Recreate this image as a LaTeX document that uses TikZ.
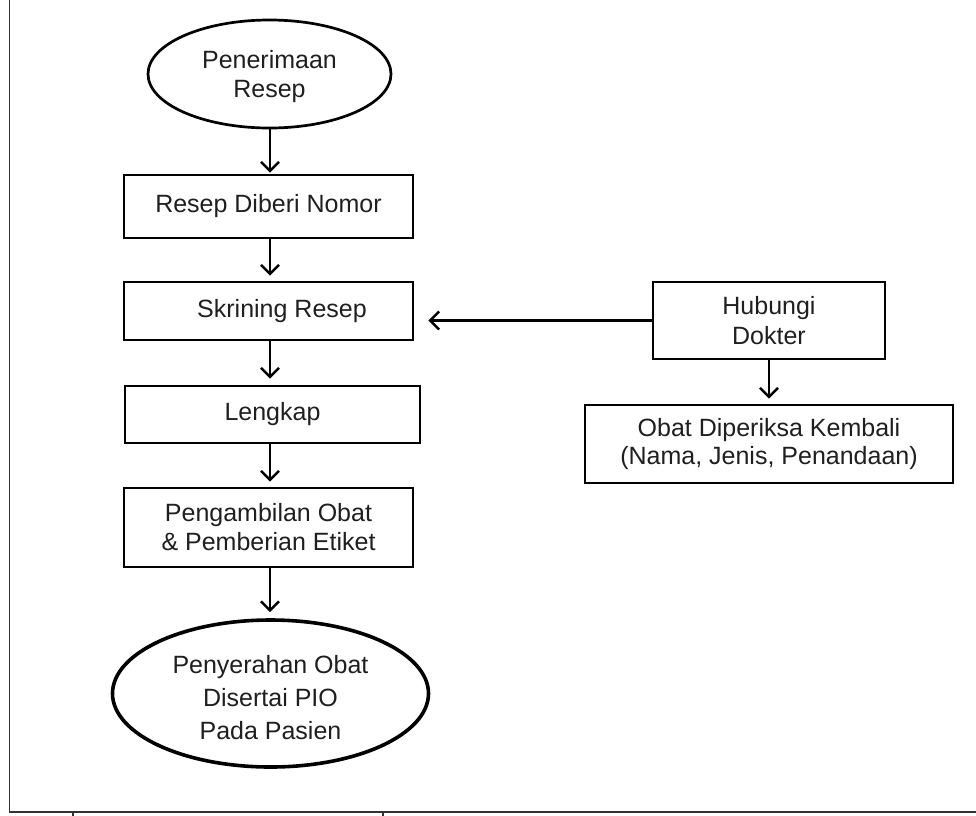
\documentclass[tikz,border=0pt]{standalone}
\usepackage{fontspec}
\setmainfont{Liberation Sans}
\usetikzlibrary{shapes.geometric,arrows.meta}
\definecolor{ink}{rgb}{0.12,0.12,0.12}
\begin{document}
\begin{tikzpicture}[x=1pt,y=-1pt,
  txt/.style={font=\fontsize{25}{29}\selectfont, text=ink, align=center},
  boxnode/.style={draw=black, line width=2.6pt, rectangle, inner sep=0pt, txt},
  ovalnode/.style={draw=black, line width=2.7pt, ellipse, inner sep=0pt, txt},
  flow/.style={draw=black, line width=2.6pt, -{Straight Barb[length=9pt,width=18pt,line width=2.6pt]}},
  framel/.style={draw=black!80, line width=1.8pt}
]
\useasboundingbox (0,0) rectangle (976,815);
% frame
\coordinate (ftl) at (9.5,0);
\coordinate (fbl) at (9.5,812);
\coordinate (fbr) at (976,812);
\coordinate (t1) at (73,812);
\coordinate (t2) at (383,812);
\draw[framel] (ftl) -- (fbl) -- (fbr);
\draw[framel] (t1) -- ++(0,4);
\draw[framel] (t2) -- ++(0,4);
% nodes
\node[ovalnode, minimum width=243pt, minimum height=108pt] (pen) at (269.5,74) {};
\node[txt] (pent) at (269.5,77) {Penerimaan\\Resep};
\node[boxnode, minimum width=289pt, minimum height=63pt] (rdn) at (268.5,206.5) {Resep Diberi Nomor};
\node[boxnode, minimum width=289pt, minimum height=58pt] (skr) at (268.5,311) {};
\node[txt] (skrt) at (282,311) {Skrining Resep};
\node[boxnode, minimum width=295pt, minimum height=57pt] (lkp) at (272.5,414.5) {Lengkap};
\node[boxnode, minimum width=289pt, minimum height=79pt] (pgb) at (268.5,527.5) {Pengambilan Obat\\\& Pemberian Etiket};
\node[ovalnode, line width=3.6pt, minimum width=316pt, minimum height=147pt] (pny) at (270.5,693.5) {};
\node[txt, font=\fontsize{25}{33}\selectfont] (pnyt) at (270.5,698) {Penyerahan Obat\\Disertai PIO\\Pada Pasien};
\node[boxnode, minimum width=232pt, minimum height=77pt, font=\fontsize{25}{30}\selectfont] (hub) at (769,320.5) {Hubungi\\Dokter};
\node[boxnode, minimum width=368pt, minimum height=78pt, font=\fontsize{25}{28}\selectfont] (obt) at (769,444) {Obat Diperiksa Kembali\\(Nama, Jenis, Penandaan)};
% connectors
\coordinate (colx) at (270,0);
\draw[flow, shorten >=1pt] (pen.south -| colx) -- (rdn.north -| colx);
\draw[flow, shorten >=5pt] (rdn.south -| colx) -- (skr.north -| colx);
\draw[flow, shorten >=6pt] (skr.south -| colx) -- (lkp.north -| colx);
\draw[flow, shorten >=5pt] (lkp.south -| colx) -- (pgb.north -| colx);
\draw[flow, shorten >=6pt] (pgb.south -| colx) -- (pny.north -| colx);
\draw[flow, shorten >=14pt] (hub.west) -- (hub.west -| skr.east);
\draw[flow, shorten >=5pt] (hub.south) -- (obt.north);
\end{tikzpicture}
\end{document}
